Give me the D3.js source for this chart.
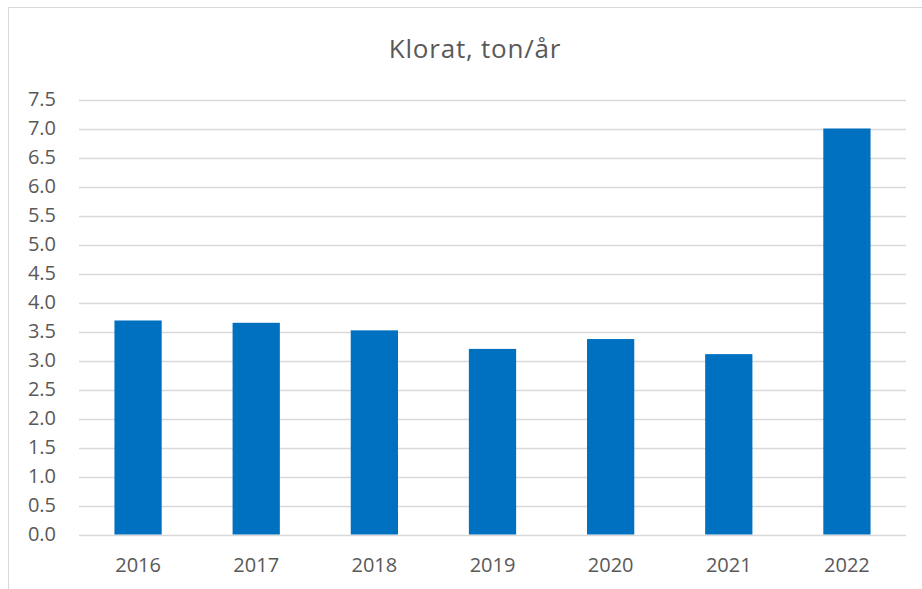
<!DOCTYPE html>
<html>
<head>
    <meta charset="utf-8">
    <script src="https://d3js.org/d3.v7.min.js"></script>
    <style>
        body{
            margin: 0;
            background: #fff;
        }
        text{
            font-family: "Open Sans", sans-serif;
            fill: #595959;
        }
    </style>
    <title>Klorat, ton/år</title>
</head>
<body>
    <div class="chart-wrap"></div>

    <script>
    // data
    var years = ["2016", "2017", "2018", "2019", "2020", "2021", "2022"];
    var klorat = [3.69, 3.65, 3.52, 3.20, 3.37, 3.11, 7.0];
    var yTicks = [0, 0.5, 1, 1.5, 2, 2.5, 3, 3.5, 4, 4.5, 5, 5.5, 6, 6.5, 7, 7.5];
    var title = "Klorat, ton/år";

    (function () {
        var w = 922,
            h = 589;

        var svg = d3.select(".chart-wrap").append("svg")
            .attr("width", w)
            .attr("height", h);

        // chart frame
        svg.append("rect")
            .attr("x", 8.5)
            .attr("y", 7.5)
            .attr("width", 940)
            .attr("height", 600)
            .style("fill", "none")
            .style("stroke", "#d9d9d9");

        var plotLeft = 79, plotRight = 906, plotTop = 99.5, plotBottom = 534.5;

        var x = d3.scaleBand()
            .domain(years)
            .range([plotLeft, plotRight])
            .paddingInner(0.6)
            .paddingOuter(0.3);

        var y = d3.scaleLinear()
            .domain([0, 7.5])
            .range([plotBottom, plotTop]);

        // gridlines
        svg.append("g")
            .selectAll("line")
            .data(yTicks)
            .enter().append("line")
            .attr("x1", plotLeft)
            .attr("x2", plotRight)
            .attr("y1", function (d) { return Math.round(y(d)) + 0.5; })
            .attr("y2", function (d) { return Math.round(y(d)) + 0.5; })
            .style("stroke", "#d9d9d9")
            .style("stroke-width", 1.3);

        // y axis labels
        var yAxis = d3.axisLeft(y)
            .tickValues(yTicks)
            .tickSize(0)
            .tickPadding(0)
            .tickFormat(d3.format(".1f"));

        var gy = svg.append("g")
            .attr("transform", "translate(56,0)")
            .call(yAxis);
        gy.select(".domain").remove();
        gy.selectAll("text")
            .style("font-size", "20px")
            .style("font-family", "'Open Sans', sans-serif")
            .style("fill", "#595959");

        // bars
        svg.append("g")
            .selectAll("rect")
            .data(klorat)
            .enter().append("rect")
            .attr("x", function (d, i) { return x(years[i]); })
            .attr("width", x.bandwidth())
            .attr("y", function (d) { return y(d); })
            .attr("height", function (d) { return y(0) - y(d); })
            .style("fill", "#0070c0");

        // x axis labels
        var xAxis = d3.axisBottom(x)
            .tickSize(0)
            .tickPadding(0);

        var gx = svg.append("g")
            .attr("transform", "translate(0,556)")
            .call(xAxis);
        gx.select(".domain").remove();
        gx.selectAll("text")
            .attr("dy", "0.8em")
            .style("font-size", "20px")
            .style("font-family", "'Open Sans', sans-serif")
            .style("fill", "#595959");

        // title
        svg.append("text")
            .attr("x", 475)
            .attr("y", 58)
            .attr("text-anchor", "middle")
            .style("font-size", "26px")
            .style("letter-spacing", "0.8px")
            .text(title);
    })();
    </script>
</body>
</html>
